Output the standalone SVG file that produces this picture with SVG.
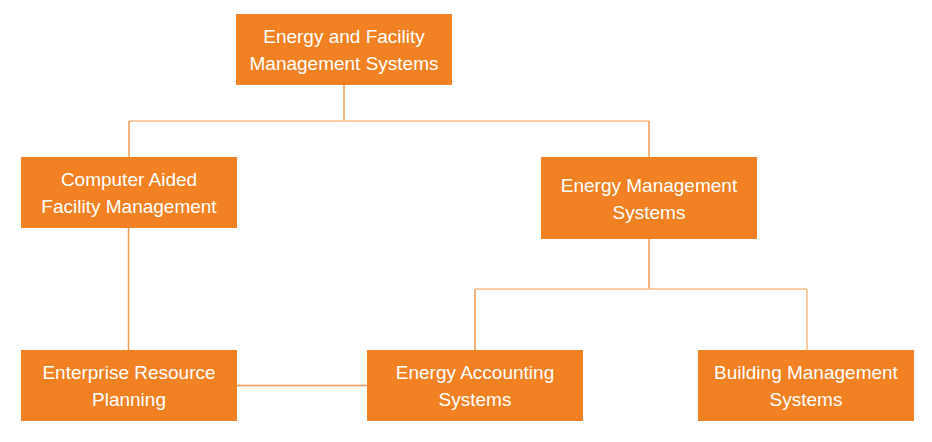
<svg xmlns="http://www.w3.org/2000/svg" width="932" height="442" viewBox="0 0 932 442">
<style>
.box{fill:#F28124;}
.t{font-family:"Liberation Sans",Arial,sans-serif;font-size:19px;fill:#FFFFFF;text-anchor:middle;}
.c{fill:none;stroke:#F39A52;stroke-width:1.5;}
.cl{fill:none;stroke:#F8BC8A;stroke-width:1.5;}
</style>
<rect width="932" height="442" fill="#FFFFFF"/>
<g id="connectors">
<path class="c" d="M344 85V121"/>
<path class="cl" d="M129 121H649"/>
<path class="c" d="M129 121V157"/>
<path class="c" d="M649 121V157"/>
<path class="c" d="M128.5 228V350"/>
<path class="c" d="M649 239V289"/>
<path class="cl" d="M475 289H807"/>
<path class="c" d="M475 289V350"/>
<path class="cl" d="M807 289V350"/>
<path class="c" d="M237 385.5H367"/>
</g>
<g id="node-efms">
<rect class="box" x="236" y="14" width="216" height="71"/>
<text class="t" x="344" y="43">Energy and Facility</text>
<text class="t" x="344" y="70">Management Systems</text>
</g>
<g id="node-cafm">
<rect class="box" x="21" y="157" width="216" height="71"/>
<text class="t" x="129" y="186">Computer Aided</text>
<text class="t" x="129" y="213">Facility Management</text>
</g>
<g id="node-ems">
<rect class="box" x="541" y="157" width="216" height="82"/>
<text class="t" x="649" y="192">Energy Management</text>
<text class="t" x="649" y="219">Systems</text>
</g>
<g id="node-erp">
<rect class="box" x="21" y="350" width="216" height="71"/>
<text class="t" x="129" y="379">Enterprise Resource</text>
<text class="t" x="129" y="406">Planning</text>
</g>
<g id="node-eas">
<rect class="box" x="367" y="350" width="216" height="71"/>
<text class="t" x="475" y="379">Energy Accounting</text>
<text class="t" x="475" y="406">Systems</text>
</g>
<g id="node-bms">
<rect class="box" x="698" y="350" width="216" height="71"/>
<text class="t" x="806" y="379">Building Management</text>
<text class="t" x="806" y="406">Systems</text>
</g>
</svg>
